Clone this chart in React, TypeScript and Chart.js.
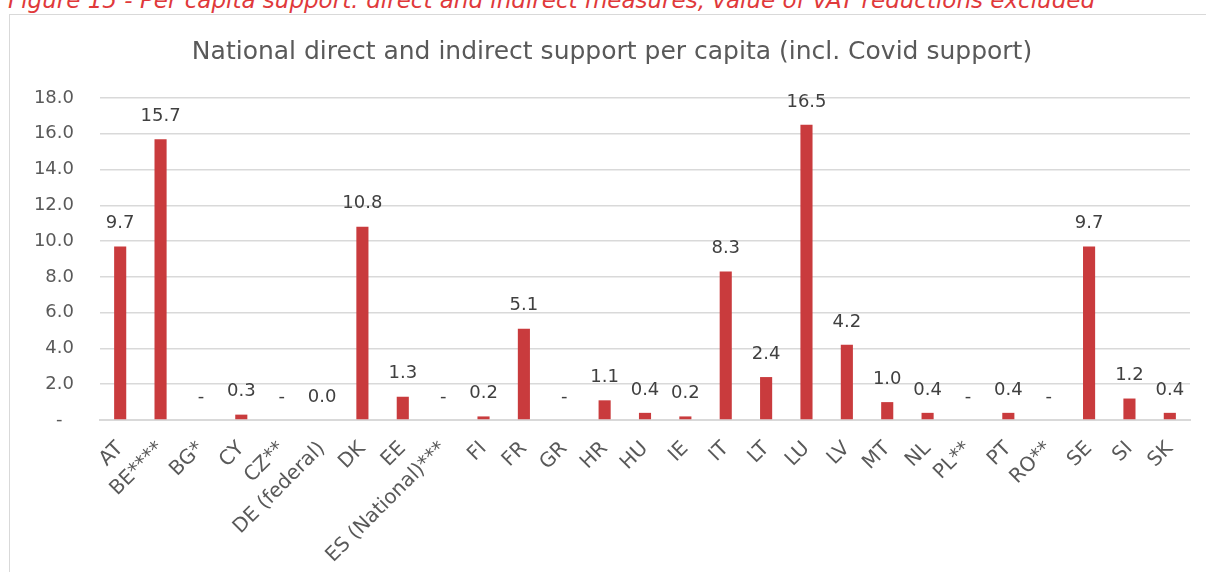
import { useEffect, useRef } from 'react';
import { Chart, registerables } from 'chart.js';

Chart.register(...registerables);

const countries = [
  'AT', 'BE****', 'BG*', 'CY', 'CZ**', 'DE (federal)', 'DK', 'EE', 'ES (National)***',
  'FI', 'FR', 'GR', 'HR', 'HU', 'IE', 'IT', 'LT', 'LU', 'LV', 'MT', 'NL', 'PL**',
  'PT', 'RO**', 'SE', 'SI', 'SK',
];

// Support per capita; null = no measure reported (shown as "-")
const supportPerCapita: (number | null)[] = [
  9.7, 15.7, null, 0.3, null, 0.0, 10.8, 1.3, null,
  0.2, 5.1, null, 1.1, 0.4, 0.2, 8.3, 2.4, 16.5, 4.2, 1.0, 0.4, null,
  0.4, null, 9.7, 1.2, 0.4,
];

const yMin = 0;
const yMax = 18;
const yStep = 2;

const FONT = '"DejaVu Sans", sans-serif';
const BAR_RED = '#C93B3D';

const formatTick = (v: number) => (v === 0 ? '-  ' : v.toFixed(1));
const formatValue = (v: number | null) => (v === null ? '-' : v.toFixed(1));

const valueLabels = {
  id: 'valueLabels',
  afterDatasetsDraw(chart: any) {
    const { ctx } = chart;
    const xs = chart.scales.x;
    const ys = chart.scales.y;
    ctx.save();
    ctx.font = `18px ${FONT}`;
    ctx.fillStyle = '#404040';
    ctx.textAlign = 'center';
    ctx.textBaseline = 'middle';
    supportPerCapita.forEach((v, i) => {
      const x = xs.getPixelForValue(i);
      const top = ys.getPixelForValue(v ?? 0);
      ctx.fillText(formatValue(v), x, top - 23);
    });
    ctx.restore();
  },
};

export default function App() {
  const canvasRef = useRef<HTMLCanvasElement | null>(null);

  useEffect(() => {
    if (!canvasRef.current) return;
    const chart = new Chart(canvasRef.current, {
      type: 'bar',
      data: {
        labels: countries,
        datasets: [
          {
            data: supportPerCapita,
            backgroundColor: BAR_RED,
            barPercentage: 0.3,
            categoryPercentage: 1,
          },
        ],
      },
      options: {
        animation: false,
        responsive: true,
        maintainAspectRatio: false,
        layout: { padding: { left: 24, right: 16, top: 0, bottom: 0 } },
        plugins: {
          legend: { display: false },
          tooltip: { enabled: false },
          title: {
            display: true,
            text: 'National direct and indirect support per capita (incl. Covid support)',
            color: '#595959',
            font: { family: FONT, size: 25, weight: 'normal' },
            padding: { top: 22, bottom: 31 },
          },
        },
        scales: {
          x: {
            grid: { display: false, drawTicks: false },
            border: { color: '#d9d9d9', width: 2 },
            ticks: {
              autoSkip: false,
              maxRotation: 45,
              minRotation: 45,
              padding: 17,
              color: '#595959',
              font: { family: FONT, size: 20 },
            },
            afterFit: (scale: any) => {
              scale.height = 152;
            },
          },
          y: {
            min: yMin,
            max: yMax,
            grid: { color: '#d9d9d9', lineWidth: 1.5, drawTicks: false },
            border: { display: false },
            ticks: {
              stepSize: yStep,
              padding: 26,
              color: '#595959',
              font: { family: FONT, size: 18 },
              callback: (v: any) => formatTick(Number(v)),
            },
            afterFit: (scale: any) => {
              scale.width = 66;
            },
          },
        },
      },
      plugins: [valueLabels],
    });
    return () => chart.destroy();
  }, []);

  return (
    <div
      style={{
        position: 'fixed',
        left: 0,
        top: 0,
        width: 1206,
        height: 572,
        overflow: 'hidden',
        background: '#ffffff',
      }}
    >
      <div
        style={{
          position: 'absolute',
          left: 8,
          top: -11,
          whiteSpace: 'nowrap',
          fontFamily: FONT,
          fontStyle: 'italic',
          fontSize: 23,
          lineHeight: '23px',
          color: '#E0393B',
        }}
      >
        Figure 15 - Per capita support: direct and indirect measures, value of VAT reductions excluded
      </div>
      <div
        style={{
          position: 'absolute',
          left: 9,
          top: 14,
          width: 1240,
          height: 620,
          border: '1.5px solid #d9d9d9',
          boxSizing: 'border-box',
        }}
      />
      <div style={{ position: 'absolute', left: 10, top: 15, width: 1196, height: 557 }}>
        <canvas ref={canvasRef} />
      </div>
    </div>
  );
}
